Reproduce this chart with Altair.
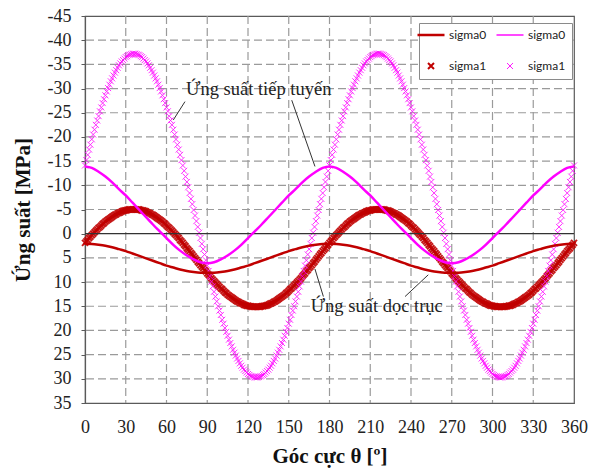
import altair as alt
import pandas as pd

# ---------------- data ----------------
# legend order (column-major in Vega): red line, red x, magenta line, magenta x
CATS = ["sigma0", "sigma1", "sigma0\u200b", "sigma1\u200b"]
COLORS = ["#c00000", "#c00000", "#ff00ff", "#ff00ff"]

X_TICKS = [0, 30, 60, 90, 120, 150, 180, 210, 240, 270, 300, 330, 360]
Y_TICKS = [-45, -40, -35, -30, -25, -20, -15, -10, -5, 0, 5, 10, 15, 20, 25, 30, 35]
ZERO_LINE = [0]

THETA_COARSE = list(range(0, 361, 5))
THETA_FINE = list(range(0, 361, 1))

# sigma0 curves (solid lines), every 5 degrees
SIGMA0_AXIAL = [2.1, 2.15, 2.3, 2.5, 2.8, 3.2, 3.6, 4.1, 4.6, 5.1, 5.6, 6.1, 6.6, 7.0, 7.4, 7.7, 7.9, 8.05, 8.1,
                8.05, 7.9, 7.7, 7.4, 7.0, 6.6, 6.1, 5.6, 5.1, 4.6, 4.1, 3.6, 3.2, 2.8, 2.5, 2.3, 2.15, 2.1,
                2.15, 2.3, 2.5, 2.8, 3.2, 3.6, 4.1, 4.6, 5.1, 5.6, 6.1, 6.6, 7.0, 7.4, 7.7, 7.9, 8.05, 8.1,
                8.05, 7.9, 7.7, 7.4, 7.0, 6.6, 6.1, 5.6, 5.1, 4.6, 4.1, 3.6, 3.2, 2.8, 2.5, 2.3, 2.15, 2.1]
SIGMA0_TANG = [-13.9, -13.6, -12.8, -11.8, -10.6, -9.2, -7.9, -6.4, -4.9, -3.4, -1.9, -0.5, 0.9, 2.3, 3.5, 4.5, 5.3, 5.9, 6.1,
               5.9, 5.3, 4.5, 3.5, 2.3, 0.9, -0.5, -1.9, -3.4, -4.9, -6.4, -7.9, -9.2, -10.6, -11.8, -12.8, -13.6, -13.9,
               -13.6, -12.8, -11.8, -10.6, -9.2, -7.9, -6.4, -4.9, -3.4, -1.9, -0.5, 0.9, 2.3, 3.5, 4.5, 5.3, 5.9, 6.1,
               5.9, 5.3, 4.5, 3.5, 2.3, 0.9, -0.5, -1.9, -3.4, -4.9, -6.4, -7.9, -9.2, -10.6, -11.8, -12.8, -13.6, -13.9]

# sigma1 curves (x markers), every degree
SIGMA1_AXIAL = [
    1.9, 1.6, 1.3, 0.9, 0.6, 0.3, 0.0, -0.3, -0.6, -0.9,
    -1.2, -1.4, -1.7, -2.0, -2.2, -2.5, -2.7, -2.9, -3.1, -3.3,
    -3.5, -3.7, -3.9, -4.0, -4.2, -4.3, -4.4, -4.6, -4.7, -4.8,
    -4.8, -4.9, -5.0, -5.0, -5.0, -5.0, -5.0, -5.0, -5.0, -5.0,
    -5.0, -4.9, -4.8, -4.8, -4.7, -4.6, -4.4, -4.3, -4.2, -4.0,
    -3.9, -3.7, -3.5, -3.3, -3.1, -2.9, -2.7, -2.5, -2.2, -2.0,
    -1.7, -1.4, -1.2, -0.9, -0.6, -0.3, 0.0, 0.3, 0.6, 0.9,
    1.3, 1.6, 1.9, 2.3, 2.6, 3.0, 3.3, 3.6, 4.0, 4.3,
    4.7, 5.05, 5.4, 5.8, 6.1, 6.5, 6.8, 7.1, 7.5, 7.8,
    8.2, 8.5, 8.8, 9.2, 9.5, 9.8, 10.1, 10.4, 10.7, 11.0,
    11.3, 11.5, 11.8, 12.1, 12.3, 12.6, 12.8, 13.0, 13.2, 13.4,
    13.6, 13.8, 14.0, 14.1, 14.3, 14.4, 14.5, 14.7, 14.8, 14.9,
    14.9, 15.0, 15.0, 15.1, 15.1, 15.1, 15.1, 15.1, 15.1, 15.1,
    15.0, 15.0, 14.9, 14.9, 14.8, 14.7, 14.5, 14.4, 14.3, 14.1,
    14.0, 13.8, 13.6, 13.4, 13.2, 13.0, 12.8, 12.6, 12.3, 12.1,
    11.8, 11.5, 11.3, 11.0, 10.7, 10.4, 10.1, 9.8, 9.5, 9.2,
    8.8, 8.5, 8.2, 7.8, 7.5, 7.1, 6.8, 6.5, 6.1, 5.8,
    5.4, 5.05, 4.7, 4.3, 4.0, 3.6, 3.3, 3.0, 2.6, 2.3,
    1.9, 1.6, 1.3, 0.9, 0.6, 0.3, 0.0, -0.3, -0.6, -0.9,
    -1.2, -1.4, -1.7, -2.0, -2.2, -2.5, -2.7, -2.9, -3.1, -3.3,
    -3.5, -3.7, -3.9, -4.0, -4.2, -4.3, -4.4, -4.6, -4.7, -4.8,
    -4.8, -4.9, -5.0, -5.0, -5.0, -5.0, -5.0, -5.0, -5.0, -5.0,
    -5.0, -4.9, -4.8, -4.8, -4.7, -4.6, -4.4, -4.3, -4.2, -4.0,
    -3.9, -3.7, -3.5, -3.3, -3.1, -2.9, -2.7, -2.5, -2.2, -2.0,
    -1.7, -1.4, -1.2, -0.9, -0.6, -0.3, 0.0, 0.3, 0.6, 0.9,
    1.3, 1.6, 1.9, 2.3, 2.6, 3.0, 3.3, 3.6, 4.0, 4.3,
    4.7, 5.05, 5.4, 5.8, 6.1, 6.5, 6.8, 7.1, 7.5, 7.8,
    8.2, 8.5, 8.8, 9.2, 9.5, 9.8, 10.1, 10.4, 10.7, 11.0,
    11.3, 11.5, 11.8, 12.1, 12.3, 12.6, 12.8, 13.0, 13.2, 13.4,
    13.6, 13.8, 14.0, 14.1, 14.3, 14.4, 14.5, 14.7, 14.8, 14.9,
    14.9, 15.0, 15.0, 15.1, 15.1, 15.1, 15.1, 15.1, 15.1, 15.1,
    15.0, 15.0, 14.9, 14.9, 14.8, 14.7, 14.5, 14.4, 14.3, 14.1,
    14.0, 13.8, 13.6, 13.4, 13.2, 13.0, 12.8, 12.6, 12.3, 12.1,
    11.8, 11.5, 11.3, 11.0, 10.7, 10.4, 10.1, 9.8, 9.5, 9.2,
    8.8, 8.5, 8.2, 7.8, 7.5, 7.1, 6.8, 6.5, 6.1, 5.8,
    5.4, 5.05, 4.7, 4.3, 4.0, 3.6, 3.3, 3.0, 2.6, 2.3,
    1.9]
SIGMA1_TANG = [
    -14.1, -15.2, -16.3, -17.4, -18.4, -19.5, -20.5, -21.5, -22.5, -23.4,
    -24.3, -25.3, -26.1, -27.0, -27.8, -28.6, -29.4, -30.1, -30.8, -31.5,
    -32.1, -32.7, -33.3, -33.8, -34.3, -34.8, -35.2, -35.6, -35.9, -36.2,
    -36.5, -36.7, -36.9, -37.0, -37.1, -37.2, -37.2, -37.2, -37.1, -37.0,
    -36.9, -36.7, -36.5, -36.2, -35.9, -35.6, -35.2, -34.8, -34.3, -33.8,
    -33.3, -32.7, -32.1, -31.5, -30.8, -30.1, -29.4, -28.6, -27.8, -27.0,
    -26.1, -25.3, -24.3, -23.4, -22.5, -21.5, -20.5, -19.5, -18.4, -17.4,
    -16.3, -15.2, -14.1, -13.0, -11.8, -10.7, -9.6, -8.4, -7.2, -6.1,
    -4.9, -3.75, -2.6, -1.4, -0.2, 0.9, 2.1, 3.2, 4.3, 5.5,
    6.6, 7.7, 8.8, 9.9, 10.9, 12.0, 13.0, 14.0, 15.0, 15.9,
    16.8, 17.8, 18.6, 19.5, 20.3, 21.1, 21.9, 22.6, 23.3, 24.0,
    24.6, 25.2, 25.8, 26.3, 26.8, 27.3, 27.7, 28.1, 28.4, 28.7,
    29.0, 29.2, 29.4, 29.5, 29.6, 29.7, 29.7, 29.7, 29.6, 29.5,
    29.4, 29.2, 29.0, 28.7, 28.4, 28.1, 27.7, 27.3, 26.8, 26.3,
    25.8, 25.2, 24.6, 24.0, 23.3, 22.6, 21.9, 21.1, 20.3, 19.5,
    18.6, 17.8, 16.8, 15.9, 15.0, 14.0, 13.0, 12.0, 10.9, 9.9,
    8.8, 7.7, 6.6, 5.5, 4.3, 3.2, 2.1, 0.9, -0.2, -1.4,
    -2.6, -3.75, -4.9, -6.1, -7.2, -8.4, -9.6, -10.7, -11.8, -13.0,
    -14.1, -15.2, -16.3, -17.4, -18.4, -19.5, -20.5, -21.5, -22.5, -23.4,
    -24.3, -25.3, -26.1, -27.0, -27.8, -28.6, -29.4, -30.1, -30.8, -31.5,
    -32.1, -32.7, -33.3, -33.8, -34.3, -34.8, -35.2, -35.6, -35.9, -36.2,
    -36.5, -36.7, -36.9, -37.0, -37.1, -37.2, -37.2, -37.2, -37.1, -37.0,
    -36.9, -36.7, -36.5, -36.2, -35.9, -35.6, -35.2, -34.8, -34.3, -33.8,
    -33.3, -32.7, -32.1, -31.5, -30.8, -30.1, -29.4, -28.6, -27.8, -27.0,
    -26.1, -25.3, -24.3, -23.4, -22.5, -21.5, -20.5, -19.5, -18.4, -17.4,
    -16.3, -15.2, -14.1, -13.0, -11.8, -10.7, -9.6, -8.4, -7.2, -6.1,
    -4.9, -3.75, -2.6, -1.4, -0.2, 0.9, 2.1, 3.2, 4.3, 5.5,
    6.6, 7.7, 8.8, 9.9, 10.9, 12.0, 13.0, 14.0, 15.0, 15.9,
    16.8, 17.8, 18.6, 19.5, 20.3, 21.1, 21.9, 22.6, 23.3, 24.0,
    24.6, 25.2, 25.8, 26.3, 26.8, 27.3, 27.7, 28.1, 28.4, 28.7,
    29.0, 29.2, 29.4, 29.5, 29.6, 29.7, 29.7, 29.7, 29.6, 29.5,
    29.4, 29.2, 29.0, 28.7, 28.4, 28.1, 27.7, 27.3, 26.8, 26.3,
    25.8, 25.2, 24.6, 24.0, 23.3, 22.6, 21.9, 21.1, 20.3, 19.5,
    18.6, 17.8, 16.8, 15.9, 15.0, 14.0, 13.0, 12.0, 10.9, 9.9,
    8.8, 7.7, 6.6, 5.5, 4.3, 3.2, 2.1, 0.9, -0.2, -1.4,
    -2.6, -3.75, -4.9, -6.1, -7.2, -8.4, -9.6, -10.7, -11.8, -13.0,
    -14.1]

# annotations (data coordinates)
NOTE_TEXT = ["Ứng suất tiếp tuyến", "Ứng suất dọc trục"]
NOTE_THETA = [74.4, 166.2]
NOTE_STRESS = [-28.7, 16.1]
LEADER_THETA = [73.6, 152.2, 175.5, 235.6]
LEADER_STRESS = [-27.3, -27.6, 13.0, 13.0]
LEADER_THETA2 = [65.0, 169.3, 169.3, 252.7]
LEADER_STRESS2 = [-23.5, -13.9, 7.3, 8.5]

LINE_PATH = "M-4.5,0L4.5,0"
X_PATH = "M-1,-1L1,1M-1,1L1,-1"

# ---------------- tables ----------------
n0 = len(THETA_COARSE)
n1 = len(THETA_FINE)
df_lines = pd.DataFrame({
    "theta": THETA_COARSE + THETA_COARSE,
    "stress": SIGMA0_AXIAL + SIGMA0_TANG,
    "series": ["sigma0"] * n0 + ["sigma0\u200b"] * n0,
})
df_pts = pd.DataFrame({
    "theta": THETA_FINE + THETA_FINE,
    "stress": SIGMA1_AXIAL + SIGMA1_TANG,
    "series": ["sigma1"] * n1 + ["sigma1\u200b"] * n1,
})
df_zero = pd.DataFrame({"stress": ZERO_LINE})
df_vgrid = pd.DataFrame({"theta": X_TICKS[1:-1]})
df_hgrid = pd.DataFrame({"stress": [v for v in Y_TICKS if v not in (-45, 0, 35)]})
df_notes = pd.DataFrame({"theta": NOTE_THETA, "stress": NOTE_STRESS, "txt": NOTE_TEXT})
df_lead = pd.DataFrame({"theta": LEADER_THETA, "stress": LEADER_STRESS,
                        "theta2": LEADER_THETA2, "stress2": LEADER_STRESS2})

SERIF = "Liberation Serif"
XSCALE = alt.Scale(domain=[0, 360], nice=False, zero=False)
YSCALE = alt.Scale(domain=[35, -45], nice=False, zero=False)

x_enc = alt.X("theta:Q", scale=XSCALE,
              axis=alt.Axis(values=X_TICKS, title="Góc cực θ [º]", ticks=False, grid=False,
                            labelOverlap=False, labelFlush=False, labelFont=SERIF, labelFontSize=18,
                            labelPadding=15, titleX=244.5, titleY=59,
                            titleBaseline="alphabetic", titleAlign="center"))
y_enc = alt.Y("stress:Q", scale=YSCALE,
              axis=alt.Axis(values=Y_TICKS, title="Ứng suất [MPa]", tickSize=4, grid=False,
                            tickCount=17,
                            labelOverlap=False, labelFlush=False, labelFont=SERIF, labelFontSize=18,
                            labelExpr="'' + datum.value",
                            labelPadding=10, titleX=-62, titleY=193.5,
                            titleAngle=270, titleBaseline="middle", titleAlign="center"))

GRID_STYLE = dict(color="#9a9a9a", strokeWidth=1.2, strokeDash=[8, 4])
vgrid = alt.Chart(df_vgrid).mark_rule(**GRID_STYLE).encode(x=x_enc)
hgrid = alt.Chart(df_hgrid).mark_rule(**GRID_STYLE).encode(y=y_enc)

points = alt.Chart(df_pts).mark_point(filled=False, opacity=0.9, size=36).encode(
    x=alt.X("theta:Q", scale=XSCALE), y=alt.Y("stress:Q", scale=YSCALE),
    color=alt.Color("series:N", scale=alt.Scale(domain=CATS, range=COLORS),
                    legend=alt.Legend(title=None, orient="none", legendX=334, legendY=7,
                                      columns=2, padding=6, strokeColor="#8a8a8a",
                                      fillColor="white", labelFont="Lato", labelFontSize=12,
                                      labelColor="#222", symbolSize=36, labelOffset=12,
                                      columnPadding=6, rowPadding=18, symbolOpacity=1)),
    shape=alt.Shape("series:N", scale=alt.Scale(domain=CATS,
                                                range=[LINE_PATH, X_PATH, LINE_PATH, X_PATH]),
                    legend=alt.Legend(title=None)),
    strokeWidth=alt.StrokeWidth("series:N", scale=alt.Scale(domain=CATS, range=[2.5, 0.9, 2.5, 0.9]),
                                legend=alt.Legend(title=None)),
)

lines = alt.Chart(df_lines).mark_line(strokeWidth=2.5, interpolate="monotone").encode(
    x="theta:Q", y="stress:Q",
    stroke=alt.Stroke("series:N", scale=alt.Scale(domain=["sigma0", "sigma0\u200b"],
                                                  range=["#c00000", "#ff00ff"]), legend=None),
)

zero = alt.Chart(df_zero).mark_rule(color="#333333", strokeWidth=1.3).encode(y="stress:Q")

leaders = alt.Chart(df_lead).mark_rule(color="#333333", strokeWidth=1).encode(
    x="theta:Q", y="stress:Q", x2="theta2:Q", y2="stress2:Q")

notes = alt.Chart(df_notes).mark_text(align="left", baseline="alphabetic", font=SERIF,
                                      fontSize=18.5, color="#222222").encode(
    x="theta:Q", y="stress:Q", text="txt:N")

chart = alt.layer(vgrid, hgrid, points, zero, lines, leaders, notes).properties(
    width=489, height=387,
    padding={"left": 85, "top": 16, "right": 15, "bottom": 69},
    autosize=alt.AutoSizeParams(type="none"),
).configure_view(
    stroke="#5a5a5a", strokeWidth=1.2
).configure_axis(
    labelFont=SERIF, labelFontSize=18, labelColor="#222222",
    titleFont=SERIF, titleFontSize=21, titleFontWeight="bold", titleColor="#111111",
    domainColor="#5a5a5a", domainWidth=1.2, tickColor="#5a5a5a",
)

chart.save("out.html", embed_options={"renderer": "svg", "actions": False})
